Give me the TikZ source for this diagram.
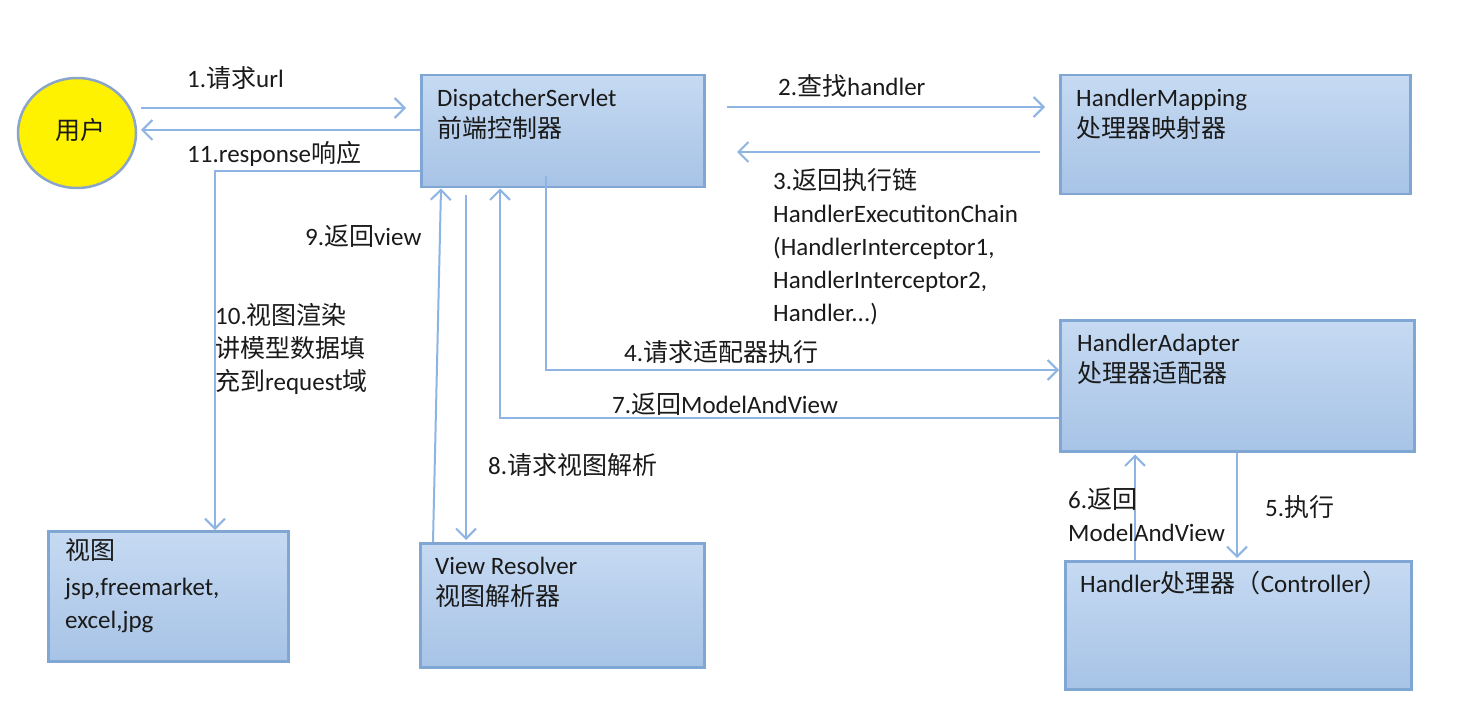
\documentclass[tikz,border=0pt]{standalone}
\usepackage{fontspec}
\setmainfont{Carlito}
\newfontfamily\cjk{Noto Sans CJK SC}
\usetikzlibrary{arrows.meta,shapes.geometric}
\newcommand{\zh}[1]{{\cjk #1}}
\definecolor{boxtop}{HTML}{C6DAF2}
\definecolor{boxbot}{HTML}{A7C3E6}
\definecolor{boxline}{HTML}{80A6D4}
\definecolor{arrowc}{HTML}{8EB4E3}
\definecolor{userline}{HTML}{8AA5C8}
\definecolor{txt}{HTML}{1A1A1A}
\tikzset{
  box/.style={draw=boxline, line width=2.5pt, top color=boxtop, bottom color=boxbot,
    anchor=north west, inner sep=0pt, rectangle},
  boxtext/.style={anchor=base west, inner sep=0pt, align=left, text=txt,
    font=\fontsize{25}{31}\selectfont},
  lab/.style={anchor=base west, inner sep=0pt, align=left, text=txt,
    font=\fontsize{25}{33}\selectfont},
  arr/.style={draw=arrowc, line width=2pt, -{Straight Barb[length=10pt,width=20pt,line width=2pt]}}
}
\begin{document}
\begin{tikzpicture}[x=1pt,y=-1pt]
\useasboundingbox[fill=white] (0,0) rectangle (1457,714);
% user
\node[ellipse, draw=userline, line width=2.5pt, fill=yellow, minimum width=118pt, minimum height=110pt, inner sep=0pt] (user) at (77,133) {};
\node[boxtext, anchor=center] (usert) at (80,130) {\zh{用户}};
% boxes
\node[box, minimum width=283pt, minimum height=112pt] (ds) at (420,74) {};
\node[box, minimum width=350pt, minimum height=119pt] (hm) at (1059,74) {};
\node[box, minimum width=354pt, minimum height=131pt] (ha) at (1059,319) {};
\node[box, minimum width=346pt, minimum height=128pt] (h) at (1064,560) {};
\node[box, minimum width=240pt, minimum height=130pt] (v) at (47,530) {};
\node[box, minimum width=284pt, minimum height=124pt] (vr) at (419,542) {};
% box texts (anchor = baseline of last line)
\node[boxtext] (dst) at (437,138) {DispatcherServlet\\\zh{前端控制器}};
\node[boxtext] (hmt) at (1076,138) {HandlerMapping\\\zh{处理器映射器}};
\node[boxtext] (hat) at (1077,382) {HandlerAdapter\\\zh{处理器适配器}};
\node[boxtext] (ht) at (1080,592) {Handler\zh{处理器（}Controller\zh{）}};
\node[lab] (vt) at (65,628) {\zh{视图}\\[3pt]jsp,freemarket,\\excel,jpg};
\node[boxtext] (vrt) at (435,605) {View Resolver\\\zh{视图解析器}};
% connectors
\coordinate (u1) at (141,108);
\coordinate (u11) at (141,130);
\draw[arr, shorten >=14pt] (u1) -- (ds.west |- u1);
\draw[arr] (ds.west |- u11) -- (u11);
\draw[arr] (ds.west |- 0,171) -- (215,171) -- (215,0 |- v.north);
\draw[arr] (433,0 |- vr.north) -- (441,0 |- ds.south);
\coordinate (s8) at (466,195);
\draw[arr, shorten >=2pt] (s8) -- (s8 |- vr.north);
\draw[arr] (ha.west |- 0,418) -- (500,418) -- (500,0 |- ds.south);
\coordinate (s4) at (546,176);
\draw[arr] (s4) -- (546,370) -- (ha.west |- 0,370);
\coordinate (s2) at (727,107);
\draw[arr, shorten >=14pt] (s2) -- (hm.west |- s2);
\coordinate (s3) at (1040,152);
\coordinate (e3) at (737,152);
\draw[arr] (s3) -- (e3);
\draw[arr, shorten >=2pt] (1237,0 |- ha.south) -- (1237,0 |- h.north);
\draw[arr, shorten >=2pt] (1135,0 |- h.north) -- (1135,0 |- ha.south);
% labels
\node[lab] (l1) at (187,88) {1.\zh{请求}url};
\node[lab] (l11) at (187,163) {11.response\zh{响应}};
\node[lab] (l2) at (778,96) {2.\zh{查找}handler};
\node[lab] (l3) at (773,321) {3.\zh{返回执行链}\\HandlerExecutitonChain\\(HandlerInterceptor1,\\HandlerInterceptor2,\\Handler...)};
\node[lab] (l4) at (624,361) {4.\zh{请求适配器执行}};
\node[lab] (l7) at (612,413) {7.\zh{返回}ModelAndView};
\node[lab] (l8) at (488,474) {8.\zh{请求视图解析}};
\node[lab] (l9) at (305,246) {9.\zh{返回}view};
\node[lab] (l10) at (215,390) {10.\zh{视图渲染}\\\zh{讲模型数据填}\\\zh{充到}request\zh{域}};
\node[lab] (l6) at (1068,541) {6.\zh{返回}\\ModelAndView};
\node[lab] (l5) at (1265,516) {5.\zh{执行}};
\end{tikzpicture}
\end{document}
